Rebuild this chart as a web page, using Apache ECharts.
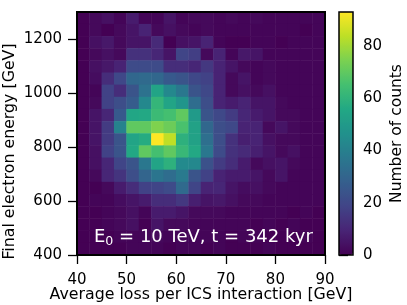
<!DOCTYPE html>
<html><head><meta charset="utf-8">
<script src="https://cdn.jsdelivr.net/npm/echarts@6/dist/echarts.min.js"></script>
<style>html,body{margin:0;padding:0;background:#fff}#c{width:407px;height:305px}</style>
</head><body><div id="c"></div>
<script>
// bin centres (GeV)
const xCenters = [41.25, 43.75, 46.25, 48.75, 51.25, 53.75, 56.25, 58.75, 61.25, 63.75,
                  66.25, 68.75, 71.25, 73.75, 76.25, 78.75, 81.25, 83.75, 86.25, 88.75];
// rows listed from top (1300 GeV) to bottom (400 GeV)
const yCenters = [1277.5, 1232.5, 1187.5, 1142.5, 1097.5, 1052.5, 1007.5, 962.5, 917.5, 872.5,
                  827.5, 782.5, 737.5, 692.5, 647.5, 602.5, 557.5, 512.5, 467.5, 422.5];
const counts = [
  [0,2,4,1,7,1,1,5,1,2, 2,1,2,1,2,1,1,1,1,1],
  [0,2,0,2,5,9,2,4,2,1, 2,1,1,1,1,1,1,1,0,1],
  [0,4,6,2,5,5,11,0,4,5, 9,1,0,0,1,1,0,1,1,1],
  [0,2,4,2,13,13,10,5,19,17, 2,9,1,6,5,1,1,1,1,1],
  [0,4,6,9,21,21,21,12,12,10, 15,9,5,2,1,2,1,1,1,1],
  [0,3,12,20,31,32,31,26,24,20, 18,9,2,5,1,2,1,1,1,1],
  [0,1,18,12,24,35,54,43,37,24, 20,9,2,4,2,4,1,1,1,1],
  [0,2,18,22,27,43,61,54,48,33, 22,9,7,9,5,5,2,1,1,1],
  [0,5,10,26,55,56,63,65,70,50, 24,20,16,10,7,5,2,2,1,1],
  [0,5,16,41,70,70,75,72,66,53, 31,22,20,9,9,2,5,2,1,1],
  [0,5,16,24,54,57,93,84,59,53, 34,22,13,8,9,4,2,2,1,1],
  [0,4,18,24,56,70,65,70,62,56, 37,21,13,11,8,5,2,4,1,1],
  [0,4,10,19,24,37,54,59,44,43, 23,16,12,7,2,4,5,2,1,1],
  [0,2,10,14,22,30,36,33,38,24, 18,9,7,7,5,2,5,1,1,1],
  [0,0,2,7,12,18,19,21,32,19, 9,10,5,3,4,2,1,1,1,1],
  [0,1,1,3,5,7,12,12,15,8, 5,6,4,2,2,1,1,1,1,1],
  [0,0,1,2,4,1,7,7,5,2, 2,2,1,1,1,1,1,0,1,0],
  [0,0,1,2,4,0,5,2,2,1, 1,1,1,1,0,1,0,1,0,0],
  [0,0,0,1,1,1,2,1,1,1, 1,1,0,1,1,0,0,0,1,0],
  [0,0,0,0,1,1,1,0,1,1, 0,1,0,0,0,1,0,0,0,0]
];
const xTicks = [40, 50, 60, 70, 80, 90];
const yTicks = [400, 600, 800, 1000, 1200];
const cbTicks = [0, 20, 40, 60, 80];
const countMax = 93;

const viridis = ['#440154','#482475','#414487','#355f8d','#2a788e','#21918c',
                 '#22a884','#44bf70','#7ad151','#bddf26','#fde725'];

const cells = [];
counts.forEach((row, r) => row.forEach((v, c) => cells.push([c, r, v])));

const FONT = 'DejaVu Sans';
const plain = v => String(v);
const chart = echarts.init(document.getElementById('c'), null, {renderer: 'canvas'});
chart.setOption({
  animation: false,
  backgroundColor: '#ffffff',
  textStyle: {fontFamily: FONT},
  grid: [
    {left: 77, top: 12, width: 248, height: 243, outerBoundsMode: 'none', containLabel: false},
    {left: 339, top: 12, width: 14, height: 243, outerBoundsMode: 'none', containLabel: false}
  ],
  xAxis: [
    {type: 'category', data: xCenters, gridIndex: 0, show: false, boundaryGap: true},
    {type: 'value', gridIndex: 0, min: 40, max: 90, position: 'bottom',
     axisLine: {show: false}, splitLine: {show: false},
     axisTick: {show: true, length: 9, customValues: xTicks, lineStyle: {color: '#000', width: 1.3}},
     axisLabel: {customValues: xTicks, formatter: plain, fontSize: 15, color: '#000', margin: 18, fontFamily: FONT},
     name: 'Average loss per ICS interaction [GeV]', nameLocation: 'middle', nameGap: 32,
     nameMoveOverlap: false,
     nameTextStyle: {fontSize: 15.8, color: '#000', fontFamily: FONT}},
    {type: 'value', gridIndex: 1, show: false, min: 0, max: 1}
  ],
  yAxis: [
    {type: 'category', data: yCenters, gridIndex: 0, show: false, inverse: true, boundaryGap: true},
    {type: 'value', gridIndex: 0, min: 400, max: 1300, position: 'left',
     axisLine: {show: false}, splitLine: {show: false},
     axisTick: {show: true, length: 9, customValues: yTicks, lineStyle: {color: '#000', width: 1.3}},
     axisLabel: {customValues: yTicks, formatter: plain, fontSize: 15, color: '#000', margin: 15, fontFamily: FONT},
     name: 'Final electron energy [GeV]', nameLocation: 'middle', nameGap: 59, nameRotate: 90,
     nameMoveOverlap: false,
     nameTextStyle: {fontSize: 15.8, color: '#000', fontFamily: FONT, padding: [0, 36, 0, 0]}},
    {type: 'value', gridIndex: 1, min: 0, max: countMax, position: 'right',
     axisLine: {show: false}, splitLine: {show: false},
     axisTick: {show: true, length: 9, customValues: cbTicks, lineStyle: {color: '#000', width: 1.3}},
     axisLabel: {customValues: cbTicks, formatter: plain, fontSize: 15, color: '#000', margin: 10, fontFamily: FONT},
     name: 'Number of counts', nameLocation: 'middle', nameGap: 36, nameRotate: 90,
     nameMoveOverlap: false,
     nameTextStyle: {fontSize: 15.5, color: '#000', fontFamily: FONT}}
  ],
  visualMap: {
    type: 'continuous', min: 0, max: countMax, seriesIndex: 0, calculable: false,
    orient: 'vertical', left: 339, top: 12, itemWidth: 14, itemHeight: 243,
    padding: 0, text: null, showLabel: false, hoverLink: false,
    inRange: {color: viridis}
  },
  series: [{
    type: 'heatmap', xAxisIndex: 0, yAxisIndex: 0, data: cells,
    itemStyle: {borderWidth: 0}, emphasis: {disabled: true}, silent: true
  }],
  graphic: [
    {type: 'rect', z: 100, silent: true, shape: {x: 77, y: 12, width: 248, height: 243},
     style: {fill: null, stroke: '#000', lineWidth: 2}},
    {type: 'rect', z: 100, silent: true, shape: {x: 339, y: 12, width: 14, height: 243},
     style: {fill: null, stroke: '#000', lineWidth: 1.5}},
    {type: 'text', z: 100, silent: true, x: 94, y: 237.3,
     style: {text: '{a|E}{b|0}{a| = 10 TeV, t = 342 kyr}', align: 'left', verticalAlign: 'middle',
       rich: {a: {fontSize: 18, lineHeight: 22, fill: '#fff', fontFamily: FONT, verticalAlign: 'middle'},
              b: {fontSize: 12.6, lineHeight: 9, fill: '#fff', fontFamily: FONT, verticalAlign: 'bottom'}}}}
  ]
});
</script></body></html>
